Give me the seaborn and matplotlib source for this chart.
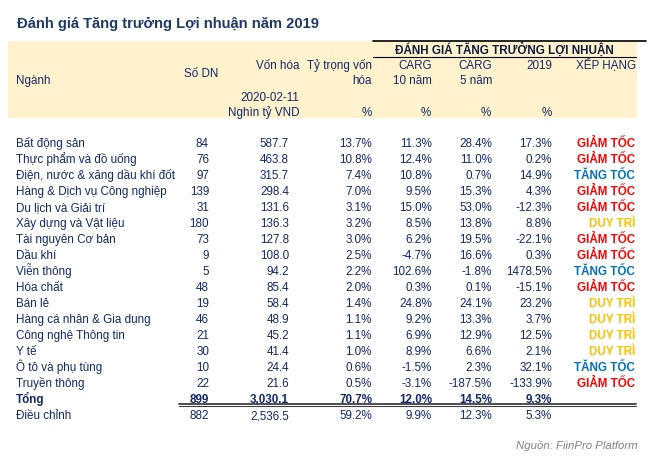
import matplotlib
matplotlib.use("Agg")
import matplotlib.pyplot as plt
import seaborn as sns
import pandas as pd

# table data
nganh = ["Bất động sản", "Thực phẩm và đồ uống", "Điện, nước & xăng dầu khí đốt",
         "Hàng & Dịch vụ Công nghiệp", "Du lịch và Giải trí", "Xây dựng và Vật liệu",
         "Tài nguyên Cơ bản", "Dầu khí", "Viễn thông", "Hóa chất", "Bán lẻ",
         "Hàng cá nhân & Gia dụng", "Công nghệ Thông tin", "Y tế", "Ô tô và phụ tùng",
         "Truyền thông"]
so_dn = [84, 76, 97, 139, 31, 180, 73, 9, 5, 48, 19, 46, 21, 30, 10, 22]
von_hoa = [587.7, 463.8, 315.7, 298.4, 131.6, 136.3, 127.8, 108.0, 94.2, 85.4,
           58.4, 48.9, 45.2, 41.4, 24.4, 21.6]
ty_trong = [13.7, 10.8, 7.4, 7.0, 3.1, 3.2, 3.0, 2.5, 2.2, 2.0, 1.4, 1.1, 1.1, 1.0, 0.6, 0.5]
carg10 = [11.3, 12.4, 10.8, 9.5, 15.0, 8.5, 6.2, -4.7, 102.6, 0.3, 24.8, 9.2, 6.9, 8.9, -1.5, -3.1]
carg5 = [28.4, 11.0, 0.7, 15.3, 53.0, 13.8, 19.5, 16.6, -1.8, 0.1, 24.1, 13.3, 12.9, 6.6, 2.3, -187.5]
tt2019 = [17.3, 0.2, 14.9, 4.3, -12.3, 8.8, -22.1, 0.3, 1478.5, -15.1, 23.2, 3.7, 12.5, 2.1, 32.1, -133.9]
xep_hang = ["GIẢM TỐC", "GIẢM TỐC", "TĂNG TỐC", "GIẢM TỐC", "GIẢM TỐC", "DUY TRÌ",
            "GIẢM TỐC", "GIẢM TỐC", "TĂNG TỐC", "GIẢM TỐC", "DUY TRÌ", "DUY TRÌ",
            "DUY TRÌ", "DUY TRÌ", "TĂNG TỐC", "GIẢM TỐC"]
tong = ["Tổng", 899, 3030.1, 70.7, 12.0, 14.5, 9.3]
dieu_chinh = ["Điều chỉnh", 882, 2536.5, 59.2, 9.9, 12.3, 5.3]

rank_colors = {"GIẢM TỐC": "#FF0000", "TĂNG TỐC": "#0070C0", "DUY TRÌ": "#FFC000"}

df = pd.DataFrame({"nganh": nganh, "so_dn": so_dn, "von_hoa": von_hoa,
                   "ty_trong": ty_trong, "carg10": carg10, "carg5": carg5,
                   "tt2019": tt2019, "xep_hang": xep_hang})

sns.set_theme(style="white")
plt.rcParams["font.family"] = ["Liberation Sans", "DejaVu Sans"]

navy = "#14286A"
fs = 8.4
bl = 4.2  # baseline offset from row centre

fig = plt.figure(figsize=(6.49, 4.61), dpi=100)
ax = fig.add_axes([0, 0, 1, 1])
ax.set_xlim(0, 649)
ax.set_ylim(461, 0)
ax.axis("off")

# title
ax.text(17, 28.3, "Đánh giá Tăng trưởng Lợi nhuận năm 2019", fontsize=10.6,
        fontweight="bold", color="#1F3864", va="baseline", ha="left")

# header band
ax.add_patch(plt.Rectangle((8, 41), 629, 77, color="#FFF2CC", lw=0, zorder=0))
ax.plot([373, 646], [41.5, 41.5], color="black", lw=1.2)
ax.plot([373, 636], [57, 57], color="black", lw=0.8)
ax.text(504, 50 + bl, "ĐÁNH GIÁ TĂNG TRƯỞNG LỢI NHUẬN", fontsize=fs, fontweight="bold",
        color="#0D1A40", ha="center", va="baseline")

hdr = dict(fontsize=fs, color=navy, va="baseline")


def put(x, y, s, **kw):
    ax.text(x, y + bl, s, **kw)


put(16, 80, "Ngành", ha="left", **hdr)
put(218, 73, "Số DN", ha="right", **hdr)
put(299, 65, "Vốn hóa", ha="right", **hdr)
put(299, 97, "2020-02-11", ha="right", **hdr)
put(299, 112, "Nghìn tỷ VND", ha="right", **hdr)
put(372, 65, "Tỷ trọng vốn", ha="right", **hdr)
put(372, 80, "hóa", ha="right", **hdr)
put(432, 65, "CARG", ha="right", **hdr)
put(432, 80, "10 năm", ha="right", **hdr)
put(492, 65, "CARG", ha="right", **hdr)
put(492, 80, "5 năm", ha="right", **hdr)
put(552, 65, "2019", ha="right", **hdr)
put(636, 65, "XẾP HẠNG", ha="right", **hdr)
for xp in [372, 431, 491, 552]:
    put(xp, 112, "%", ha="right", **hdr)

# column right edges
col_x = {"so_dn": 209, "von_hoa": 289, "ty_trong": 372, "carg10": 432,
         "carg5": 492, "tt2019": 552, "xep_hang": 635}

y0, dy = 143, 16
for i, r in df.iterrows():
    y = y0 + dy * i
    put(16, y, r["nganh"], ha="left", **hdr)
    put(col_x["so_dn"], y, f"{r['so_dn']}", ha="right", **hdr)
    put(col_x["von_hoa"], y, f"{r['von_hoa']:,.1f}", ha="right", **hdr)
    for c in ["ty_trong", "carg10", "carg5", "tt2019"]:
        put(col_x[c], y, f"{r[c]:.1f}%", ha="right", **hdr)
    put(col_x["xep_hang"], y, r["xep_hang"], ha="right", va="baseline",
        fontsize=fs, fontweight="bold", color=rank_colors[r["xep_hang"]])

# total rows
keys = ["so_dn", "von_hoa", "ty_trong", "carg10", "carg5", "tt2019"]
for j, row in enumerate([tong, dieu_chinh]):
    y = y0 + dy * (len(df) + j)
    w = "bold" if j == 0 else "normal"
    put(16, y, row[0], ha="left", fontweight=w, **hdr)
    for k, v in zip(keys, row[1:]):
        if k == "so_dn":
            s = f"{v}"
        elif k == "von_hoa":
            s = f"{v:,.1f}"
        else:
            s = f"{v:.1f}%"
        put(col_x[k], y, s, ha="right", fontweight=w, **hdr)

# double rule under total
ax.plot([179, 636], [403.5, 403.5], color="#404040", lw=1.3)
ax.plot([179, 636], [406.3, 406.3], color="#404040", lw=0.8)

ax.text(638, 449, "Nguồn: FiinPro Platform", ha="right", va="baseline",
        fontsize=8.2, style="italic", color="#808080")

fig.savefig("out.png", dpi=100)
plt.close(fig)
